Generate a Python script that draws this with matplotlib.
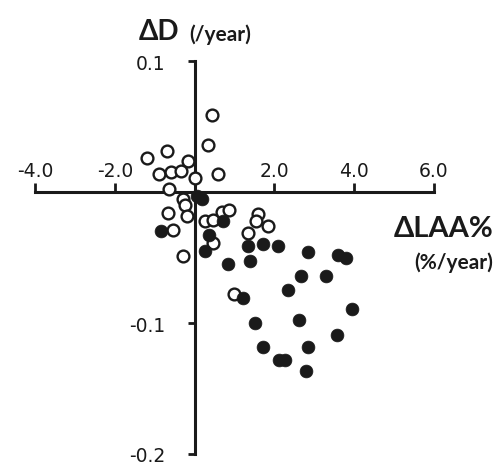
import matplotlib.pyplot as plt

# open circles
open_x = [0.44, 0.33, -0.70, -1.20, -0.16, 0.58, -0.88, -0.59, -0.33, 0.00,
          -0.65, -0.28, -0.24, -0.18, -0.66, -0.53, -0.28, 0.26, 0.47, 0.68,
          0.85, 0.47, 1.59, 1.53, 1.35, 1.85, 0.99]
open_y = [0.059, 0.036, 0.031, 0.026, 0.024, 0.014, 0.014, 0.015, 0.016, 0.011,
          0.002, -0.005, -0.010, -0.018, -0.016, -0.029, -0.049, -0.022, -0.021, -0.015,
          -0.014, -0.039, -0.017, -0.022, -0.031, -0.026, -0.078]

# filled circles
filled_x = [0.05, 0.18, -0.84, 0.36, 0.26, 0.72, 1.34, 1.72, 2.10, 0.83,
            1.39, 2.83, 3.59, 3.80, 2.66, 3.30, 2.34, 1.22, 3.95, 1.51,
            2.61, 3.58, 1.72, 2.84, 2.11, 2.26, 2.80]
filled_y = [-0.003, -0.005, -0.030, -0.033, -0.045, -0.022, -0.041, -0.040, -0.041, -0.055,
            -0.053, -0.046, -0.048, -0.050, -0.064, -0.064, -0.075, -0.081, -0.089, -0.100,
            -0.098, -0.109, -0.118, -0.118, -0.128, -0.128, -0.137]

xticks = [-4, -2, 2, 4, 6]
xtick_labels = ['-4.0', '-2.0', '2.0', '4.0', '6.0']
yticks = [0.1, -0.1, -0.2]
ytick_labels = ['0.1', '-0.1', '-0.2']

fig = plt.figure(figsize=(4.95, 4.64), dpi=100)
ax = fig.add_axes([35 / 495, 9 / 464, 399 / 495, 393 / 464])
ax.set_xlim(-4, 6)
ax.set_ylim(-0.2, 0.1)

ax.scatter(open_x, open_y, s=72, facecolors='white', edgecolors='#1a1a1a',
           linewidths=1.7, clip_on=False, zorder=3)
ax.scatter(filled_x, filled_y, s=85, facecolors='#1a1a1a', edgecolors='#1a1a1a',
           linewidths=0.5, clip_on=False, zorder=4)

for side in ['top', 'right']:
    ax.spines[side].set_visible(False)
ax.spines['left'].set_position(('data', 0))
ax.spines['bottom'].set_position(('data', 0))
for side in ['left', 'bottom']:
    ax.spines[side].set_linewidth(2.2)
    ax.spines[side].set_color('#1a1a1a')

ax.set_xticks(xticks)
ax.set_xticklabels(xtick_labels, family='DejaVu Sans', fontsize=13.5)
ax.set_yticks(yticks)
ax.set_yticklabels(ytick_labels, family='DejaVu Sans', fontsize=13.5)
ax.tick_params(axis='x', direction='in', length=6.5, width=2, pad=-22, colors='#1a1a1a')
ax.tick_params(axis='y', direction='out', length=5, width=2, pad=16, colors='#1a1a1a')

fam = ['Lato', 'DejaVu Sans']
fig.text(139 / 495, 1 - 32 / 464, '\u0394D', family=fam, fontweight='bold',
         fontsize=20, va='center', ha='left', color='#1a1a1a')
fig.text(189 / 495, 1 - 35 / 464, '(/year)', family=fam, fontweight='bold',
         fontsize=15, va='center', ha='left', color='#1a1a1a')
fig.text(493 / 495, 1 - 229 / 464, '\u0394LAA%', family=fam, fontweight='bold',
         fontsize=21, va='center', ha='right', color='#1a1a1a')
fig.text(493 / 495, 1 - 263 / 464, '(%/year)', family=fam, fontweight='bold',
         fontsize=15, va='center', ha='right', color='#1a1a1a')

fig.savefig('out.png', dpi=100)
